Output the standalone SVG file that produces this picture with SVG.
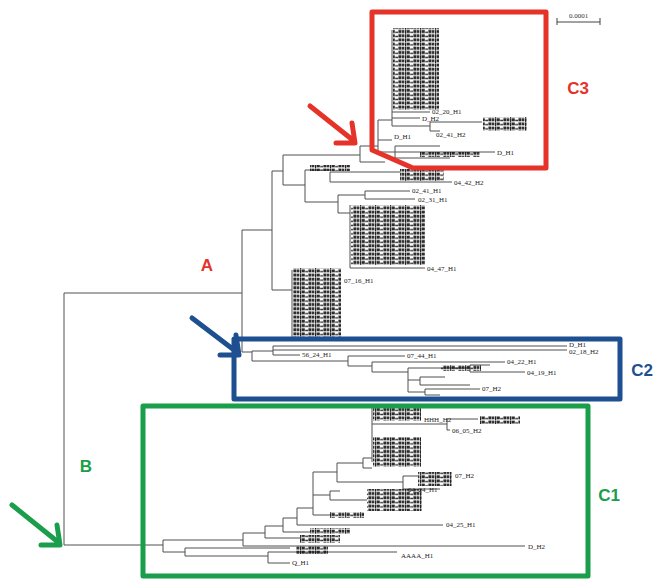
<svg xmlns="http://www.w3.org/2000/svg" width="654" height="579" viewBox="0 0 654 579">
<defs>
<pattern id="stk" width="15" height="4.2" patternUnits="userSpaceOnUse">
<rect x="0" y="0.4" width="1.2" height="3.8" fill="#111"/>
<rect x="1.6" y="0.6" width="3.2" height="3" fill="#1a1a1a"/>
<rect x="5.2" y="2.2" width="2.8" height="1.4" fill="#222"/>
<rect x="8.4" y="0.5" width="3" height="3.1" fill="#1a1a1a"/>
<rect x="11.8" y="0.6" width="2.6" height="3" fill="#222"/>
</pattern>
<style>
.t{fill:none;stroke:#505050;stroke-width:1}
.s{fill:url(#stk);opacity:0.92}
.l{font-family:"Liberation Serif",serif;font-size:7px;fill:#222}
.big{font-family:"Liberation Sans",Arial,sans-serif;font-weight:bold;font-size:17px}
.box{fill:none;stroke-width:5;stroke-linejoin:round}
.arr{fill:none;stroke-width:5;stroke-linecap:round;stroke-linejoin:round}
</style>
</defs>
<rect width="654" height="579" fill="#ffffff"/>

<g id="connectors">
<!-- root -->
<path class="t" d="M64,293H242M64,293V545M64,545H163"/>
<!-- clade A -->
<path class="t" d="M242,230V352M242,230H272M242,352H252"/>
<path class="t" d="M272,171V290M272,290H292M272,171H283"/>
<path class="t" d="M292,270V340"/>
<path class="t" d="M283,155V185M283,155H360M283,185H305"/>
<!-- C3 -->
<path class="t" d="M360,146V162M360,146H378M360,162H385"/>
<path class="t" d="M378,120V152M378,120H392M378,140H392M378,152H395"/>
<path class="t" d="M392,30V126M392,112H430M392,118H420M392,126H430M430,122V131M430,122H482M430,131H440"/>
<path class="t" d="M395,146V158M395,146H440M395,152H495M395,158H450"/>
<!-- middle A -->
<path class="t" d="M305,170V202M305,170H330M330,172V182M330,172H400M330,182H452"/>
<path class="t" d="M305,202H338M338,195V213M338,195H365M365,191V199M365,191H410M365,199H415M338,213H350M350,205V268M350,268H425"/>
<!-- C2 -->
<path class="t" d="M252,351V361M252,351H273M273,346V355M273,346H567M273,350H567M273,355H300"/>
<path class="t" d="M252,361H348M348,356V366M348,356H405M348,366H372M372,362V372M372,362H505M372,372H408"/>
<path class="t" d="M408,368V392M408,368H470M470,365V372M470,365H490M470,372H525M408,380H420M420,377V385M420,377H445M420,385H470M408,392H425M425,389V395M425,389H480M425,395H440"/>
<!-- C1 -->
<path class="t" d="M163,540V552M163,540H243M163,552H185"/>
<path class="t" d="M243,533V546M243,533H265M243,546H525"/>
<path class="t" d="M265,526V538M265,526H283M265,538H300"/>
<path class="t" d="M283,518V532M283,518H297M283,532H310"/>
<path class="t" d="M297,508V525M297,508H313M297,525H443"/>
<path class="t" d="M313,472V515M313,472H337M313,495H330M313,515H330"/>
<path class="t" d="M337,463V482M337,463H363M337,482H403"/>
<path class="t" d="M363,458V468M363,458H372M363,468H372M372,407V462M372,424H447M447,419V430M447,419H478M447,430H450"/>
<path class="t" d="M403,476V489M403,476H418M403,489H440"/>
<path class="t" d="M330,491V500M330,491H340M330,500H367"/>
<path class="t" d="M185,548V556M185,548H290M185,556H268M268,552V563M268,552H397M268,563H290"/>
</g>

<g id="stacks">
<rect class="s" x="293" y="268" width="48" height="72"/>
<rect class="s" x="393" y="28" width="46" height="82"/>
<rect class="s" x="483" y="117" width="44" height="14"/>
<rect class="s" x="400" y="169" width="44" height="12"/>
<rect class="s" x="351" y="205" width="74" height="60"/>
<rect class="s" x="373" y="407" width="48" height="14"/>
<rect class="s" x="373" y="437" width="48" height="30"/>
<rect class="s" x="480" y="416" width="40" height="8"/>
<rect class="s" x="418" y="472" width="34" height="14"/>
<rect class="s" x="367" y="489" width="55" height="22"/>
<rect class="s" x="300" y="535" width="40" height="8"/>
<rect class="s" x="296" y="546" width="32" height="8"/>
<rect class="s" x="310" y="528" width="40" height="6"/>
<rect class="s" x="330" y="512" width="34" height="6"/>
<rect class="s" x="310" y="165" width="40" height="6"/>
<rect class="s" x="441" y="365" width="40" height="6"/>
<rect class="s" x="420" y="152" width="60" height="5"/>
</g>

<g id="labels">
<text class="l" x="344" y="283">07_16_H1</text>
<text class="l" x="427" y="271">04_47_H1</text>
<text class="l" x="432" y="114">02_20_H1</text>
<text class="l" x="422" y="121">D_H2</text>
<text class="l" x="436" y="137">02_41_H2</text>
<text class="l" x="394" y="139">D_H1</text>
<text class="l" x="497" y="155">D_H1</text>
<text class="l" x="412" y="193">02_41_H1</text>
<text class="l" x="418" y="202">02_31_H1</text>
<text class="l" x="454" y="185">04_42_H2</text>
<text class="l" x="569" y="347">D_H1</text>
<text class="l" x="569" y="354">02_18_H2</text>
<text class="l" x="302" y="357">56_24_H1</text>
<text class="l" x="407" y="358">07_44_H1</text>
<text class="l" x="507" y="364">04_22_H1</text>
<text class="l" x="527" y="375">04_19_H1</text>
<text class="l" x="482" y="391">07_H2</text>
<text class="l" x="424" y="422">HHH_H2</text>
<text class="l" x="452" y="433">06_05_H2</text>
<text class="l" x="455" y="478">07_H2</text>
<text class="l" x="408" y="492">04_24_H1</text>
<text class="l" x="446" y="527">04_25_H1</text>
<text class="l" x="528" y="549">D_H2</text>
<text class="l" x="401" y="558">AAAA_H1</text>
<text class="l" x="292" y="565">Q_H1</text>
</g>

<g id="scale">
<path d="M557,22H600M557,18V25M600,18V25" fill="none" stroke="#444" stroke-width="1"/>
<text x="578.5" y="18" text-anchor="middle" font-family="Liberation Serif,serif" font-size="7" fill="#333">0.0001</text>
</g>

<g id="boxC3">
<path class="box" stroke="#e5332a" d="M372,12H546V168H413L372,150Z"/>
<text class="big" x="578" y="94" text-anchor="middle" fill="#e5332a">C3</text>
</g>
<g id="boxC2">
<rect class="box" stroke="#1d4f91" x="234" y="339" width="386" height="60"/>
<text class="big" x="642" y="376" text-anchor="middle" fill="#1d4f91">C2</text>
</g>
<g id="boxC1">
<rect class="box" stroke="#1a9e4b" x="143" y="406" width="445" height="170"/>
<text class="big" x="609" y="501" text-anchor="middle" fill="#1a9e4b">C1</text>
</g>
<g id="labelA">
<text class="big" x="207" y="271" text-anchor="middle" fill="#e5332a">A</text>
</g>
<g id="labelB">
<text class="big" x="86" y="472" text-anchor="middle" fill="#1a9e4b">B</text>
</g>

<g id="arrows">
<path class="arr" stroke="#e5332a" d="M310,106L354,141M336,143L355,143L352,123"/>
<path class="arr" stroke="#1d4f91" d="M192,318L238,353M220,355L239,355L236,335"/>
<path class="arr" stroke="#1a9e4b" d="M12,505L58,542M41,545L60,545L57,525"/>
</g>
</svg>
